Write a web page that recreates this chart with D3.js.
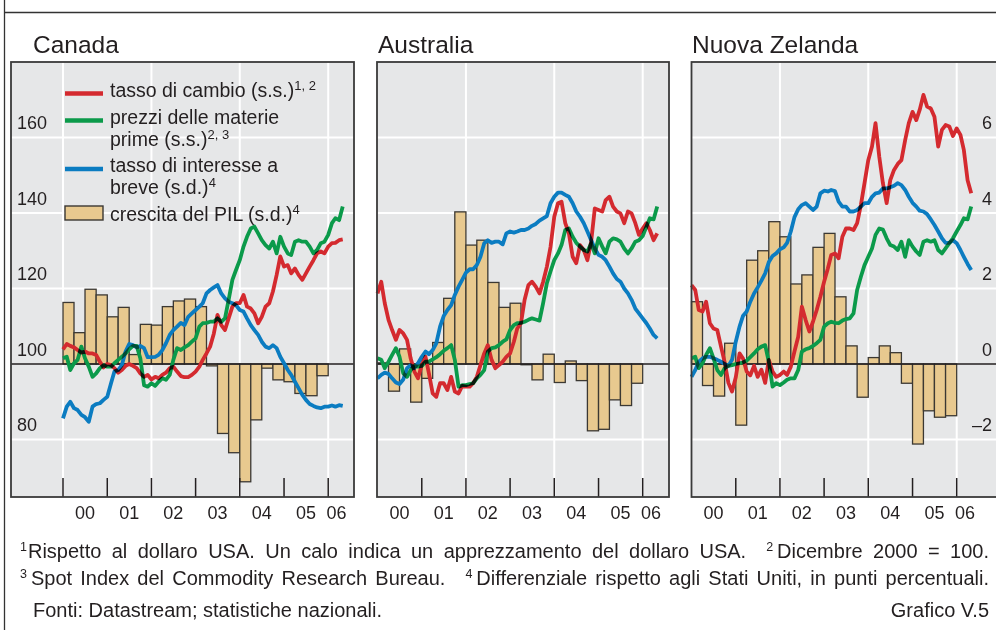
<!DOCTYPE html>
<html>
<head>
<meta charset="utf-8">
<script src="https://cdn.jsdelivr.net/npm/d3@7"></script>
<style>
body { margin: 0; background: #fff; }
svg { display: block; font-family: "Liberation Sans", Arial, sans-serif; fill: #231f20; }
</style>
</head>
<body>
<script>
// monthly series Jan 2000 - May 2006; fx and commodities: Dec 2000 = 100 (left scale)
// short rate and GDP growth: differential vs US, pp (right scale)
var canFx = [103.9,105.3,104.8,104.4,103.7,103.0,103.3,102.8,102.8,102.4,100.6,99.1,
  100.0,99.7,98.9,97.7,98.4,99.5,100.0,99.5,98.9,97.5,96.6,97.1,
  95.9,96.6,96.2,97.1,97.7,98.9,99.3,98.0,96.8,96.5,96.5,97.1,
  98.0,99.3,101.1,102.8,104.6,108.1,113.0,110.3,109.0,112.1,115.2,116.1,
  116.1,118.3,115.2,114.7,113.4,110.8,112.5,115.2,116.1,119.2,123.6,128.5,
  125.8,126.2,124.0,125.3,123.6,122.3,124.0,125.8,127.5,129.3,129.8,129.3,
  131.1,132.0,132.1,132.8,133.0];
var canCom = [101.5,101.9,98.4,100.2,101.1,104.6,101.5,99.3,96.6,97.5,98.9,99.7,
  99.3,99.3,100.2,101.1,101.9,102.8,103.9,104.8,104.8,101.5,94.4,94.0,
  94.9,94.2,95.3,96.2,95.8,97.1,101.1,104.2,103.7,104.4,105.0,105.9,
  106.8,109.9,110.8,110.9,111.2,111.2,112.1,111.2,112.1,117.0,122.3,124.9,
  127.5,131.1,133.7,135.9,136.4,134.6,132.8,131.5,130.6,132.4,129.3,133.7,
  131.1,129.3,128.9,132.4,132.8,132.4,132.4,131.1,129.3,130.2,132.0,132.4,
  134.2,137.3,138.6,138.1,141.7];
var canRate = [-1.44,-1.13,-1.00,-1.17,-1.22,-1.35,-1.41,-1.53,-1.13,-1.06,-1.04,-0.95,
  -0.87,-0.51,-0.20,-0.16,-0.03,0.33,0.53,0.50,0.44,0.48,0.42,0.18,
  0.18,0.19,0.24,0.37,0.55,0.77,0.90,0.99,1.09,1.03,1.25,1.34,
  1.43,1.52,1.61,1.87,1.96,2.03,2.09,1.87,1.74,1.65,1.61,1.56,
  1.43,1.39,1.21,1.03,0.90,0.77,0.59,0.46,0.42,0.50,0.42,0.19,
  0.02,-0.16,-0.29,-0.47,-0.64,-0.82,-0.95,-1.06,-1.11,-1.15,-1.17,-1.13,
  -1.13,-1.10,-1.13,-1.09,-1.11];
// quarterly, 2000 Q1 - 2005 Q4
var canGdp = [1.63,0.83,1.98,1.83,1.25,1.50,0.25,1.05,1.03,1.52,1.67,1.72,
  1.52,-0.05,-1.84,-2.35,-3.12,-1.48,-0.11,-0.42,-0.47,-0.78,-0.84,-0.31];

var ausFx = [118.7,121.8,116.1,111.7,109.0,106.4,109.0,108.1,106.4,101.5,98.0,96.2,
  99.8,101.9,97.5,92.2,91.3,94.9,94.9,93.1,96.6,92.7,92.2,94.2,
  94.0,94.0,94.9,96.6,99.7,102.8,105.0,101.1,98.9,99.7,100.6,101.9,
  102.8,105.9,109.4,110.8,117.0,120.9,121.8,120.5,118.7,121.8,125.8,131.0,
  139.0,142.6,143.0,137.3,134.6,128.4,126.7,131.5,130.2,127.5,132.4,141.2,
  140.8,140.4,143.4,144.3,141.7,140.4,139.9,137.3,140.4,139.9,137.3,134.2,
  135.9,137.3,135.5,132.8,134.6];
var ausCom = [101.5,101.1,98.9,100.6,102.4,104.2,101.9,97.5,96.6,98.4,99.5,99.3,
  99.5,100.6,100.6,101.2,101.8,102.6,103.5,104.2,105.0,101.1,94.0,94.4,
  94.4,94.7,94.9,96.2,97.1,98.4,103.3,104.2,104.4,105.0,105.9,106.5,
  109.0,110.3,110.8,110.9,111.2,111.7,112.1,111.8,111.5,116.1,121.4,124.5,
  127.5,129.3,131.5,135.5,135.9,133.7,132.1,131.1,130.2,129.8,132.0,129.3,
  133.3,131.1,129.3,132.4,133.3,133.0,132.4,130.6,129.3,130.6,132.4,132.8,
  133.9,136.4,138.6,138.3,141.7];
var ausRate = [-0.38,-0.29,-0.23,-0.26,-0.38,-0.49,-0.53,-0.41,-0.11,-0.03,-0.11,0.02,
  0.19,0.33,0.26,0.37,0.55,0.99,1.27,1.43,1.56,1.83,2.05,2.23,
  2.42,2.51,2.51,2.62,2.84,3.20,3.28,3.21,3.24,3.24,3.17,3.46,
  3.51,3.48,3.51,3.55,3.55,3.59,3.66,3.71,3.80,3.86,3.92,4.26,
  4.43,4.54,4.54,4.48,4.43,4.26,4.04,3.90,3.73,3.51,3.28,3.06,
  2.89,2.84,2.75,2.58,2.40,2.25,2.18,2.00,1.87,1.70,1.47,1.34,
  1.21,1.08,0.94,0.77,0.68];
var ausGdp = [0.03,-0.72,0.40,-1.01,-0.38,0.57,1.74,4.03,3.15,3.28,2.16,1.50,
  1.61,-0.02,-0.42,0.26,-0.49,0.08,-0.44,-1.77,-1.73,-0.95,-1.10,-0.51];

var nzFx = [120.9,119.6,114.3,113.9,116.5,110.8,109.4,109.0,104.6,100.5,95.0,92.7,
  96.5,102.8,101.5,98.0,97.0,99.5,96.6,98.5,95.0,101.1,98.0,96.6,
  97.1,98.0,97.1,99.3,103.3,107.2,115.2,111.7,108.6,111.2,114.3,117.8,
  121.8,125.3,128.9,129.3,128.0,133.7,135.9,135.9,135.5,137.3,142.1,147.9,
  154.0,157.6,163.8,154.9,147.9,142.6,148.7,151.4,153.0,154.0,159.3,163.8,
  166.8,164.6,167.3,171.3,168.2,167.7,165.5,157.6,162.0,163.3,162.9,160.4,
  162.4,160.7,156.7,148.7,145.2];
var nzCom = [101.5,101.9,98.9,100.2,102.4,104.2,101.5,98.4,97.1,98.9,99.5,99.7,
  100.0,100.2,100.4,100.9,101.8,102.8,103.9,104.6,105.0,100.6,94.0,94.9,
  94.4,95.1,95.8,96.2,96.2,98.4,103.3,103.9,104.2,104.8,105.5,106.4,
  109.9,110.8,111.2,110.9,110.8,111.5,111.9,112.1,113.4,119.6,123.1,126.2,
  128.4,130.6,134.2,135.9,135.6,133.3,131.5,131.1,130.2,132.4,128.4,132.8,
  131.1,129.8,128.9,132.4,132.8,132.4,132.8,130.2,129.3,130.6,132.0,133.3,
  135.1,136.8,138.6,138.3,141.7];
var nzRate = [-0.34,-0.16,0.06,0.15,0.19,0.19,0.15,0.11,0.06,0.00,-0.05,0.11,
  0.59,0.99,1.27,1.39,1.65,1.87,2.03,2.21,2.40,2.70,2.86,2.93,
  3.04,3.09,3.21,3.51,3.89,4.10,4.21,4.26,4.17,4.08,4.17,4.52,
  4.59,4.57,4.61,4.58,4.30,4.17,4.17,4.04,4.04,4.08,4.17,4.26,
  4.26,4.43,4.52,4.54,4.65,4.65,4.68,4.72,4.79,4.74,4.61,4.43,
  4.27,4.17,4.06,4.04,3.97,3.83,3.68,3.51,3.33,3.21,3.21,3.28,
  3.20,3.02,2.84,2.65,2.49];
var nzGdp = [1.65,-0.57,-0.85,0.55,-1.62,2.75,3.00,3.77,3.37,2.12,2.36,3.09,
  3.46,1.78,0.48,-0.88,0.17,0.48,0.30,-0.51,-2.12,-1.24,-1.41,-1.37];

var yearLabels = ["00","01","02","03","04","05","06"];
var leftTicks = [80,100,120,140,160];
var rightTicks = [-2,0,2,4,6];
var titles = ["Canada","Australia","Nuova Zelanda"];

var red = '#d42a2f', green = '#0b9a4a', blue = '#0b7cc1', tan = '#e8c98f';

var width = 996, height = 630;
var panelTop = 62, panelBottom = 497;

var months = d3.timeMonth.range(new Date(2000,0,1), new Date(2006,5,1));
var quarters = d3.timeMonth.every(3).range(new Date(2000,0,1), new Date(2006,0,1));
var years = d3.timeYear.range(new Date(2000,0,1), new Date(2007,0,1));

var yL = d3.scaleLinear().domain([80,160]).range([439.5,137.5]);
var yR = d3.scaleLinear().domain([-2,6]).range([439.5,137.5]);

var panels = [
  {title: titles[0], fx: canFx, com: canCom, rate: canRate, gdp: canGdp,
   left: 11, right: 354, x0: 63, x1: 328.2, titleX: 33, leftAxis: true, legend: true},
  {title: titles[1], fx: ausFx, com: ausCom, rate: ausRate, gdp: ausGdp,
   left: 377, right: 669, x0: 377.5, x1: 642.7, titleX: 378},
  {title: titles[2], fx: nzFx, com: nzCom, rate: nzRate, gdp: nzGdp,
   left: 691.5, right: 1010, x0: 691.5, x1: 956.7, titleX: 692, rightAxis: true}
];

var svg = d3.select('body').append('svg')
    .attr('width', width)
    .attr('height', height);

// outer frame
svg.append('line').attr('x1',4.5).attr('x2',4.5).attr('y1',0).attr('y2',height)
    .attr('stroke','#333').attr('stroke-width',1.3);
svg.append('line').attr('x1',4.5).attr('x2',width).attr('y1',12.5).attr('y2',12.5)
    .attr('stroke','#333').attr('stroke-width',1.3);

panels.forEach(function(p){
    var x = d3.scaleTime()
        .domain([new Date(2000,0,1), new Date(2006,0,1)])
        .range([p.x0, p.x1]);

    var g = svg.append('g');

    g.append('text')
        .attr('x', p.titleX).attr('y', 53)
        .attr('font-size', 24.5)
        .text(p.title);

    g.append('rect')
        .attr('x', p.left).attr('y', panelTop)
        .attr('width', p.right - p.left).attr('height', panelBottom - panelTop)
        .attr('fill', '#e6e7e8');

    // horizontal grid
    g.selectAll('.hgrid').data(leftTicks.filter(function(d){ return d !== 100; }))
        .enter().append('line')
        .attr('x1', p.left).attr('x2', p.right)
        .attr('y1', function(d){ return yL(d); }).attr('y2', function(d){ return yL(d); })
        .attr('stroke', '#fff').attr('stroke-width', 2);

    // vertical grid every second year
    g.selectAll('.vgrid').data(years.filter(function(d, i){ return i % 2 === 0 && x(d) > p.left + 2; }))
        .enter().append('line')
        .attr('x1', function(d){ return x(d); }).attr('x2', function(d){ return x(d); })
        .attr('y1', panelTop).attr('y2', panelBottom)
        .attr('stroke', '#fff').attr('stroke-width', 2);

    // GDP growth bars
    g.selectAll('.bar').data(p.gdp)
        .enter().append('rect')
        .attr('x', function(d, i){ return x(quarters[i]); })
        .attr('width', function(d, i){ return x(d3.timeMonth.offset(quarters[i], 3)) - x(quarters[i]); })
        .attr('y', function(d){ return yR(Math.max(0, d)); })
        .attr('height', function(d){ return Math.abs(yR(d) - yR(0)); })
        .attr('fill', tan).attr('stroke', '#3b3833').attr('stroke-width', 1.3);

    // zero line
    g.append('line')
        .attr('x1', p.left).attr('x2', p.right)
        .attr('y1', yL(100)).attr('y2', yL(100))
        .attr('stroke', '#231f20').attr('stroke-width', 1.6);

    // lines, multiplied where they cross
    var lg = g.append('g').style('isolation', 'isolate');
    var lineL = d3.line()
        .x(function(d, i){ return x(months[i]); })
        .y(function(d){ return yL(d); });
    var lineR = d3.line()
        .x(function(d, i){ return x(months[i]); })
        .y(function(d){ return yR(d); });
    [[p.rate, lineR, blue], [p.com, lineL, green], [p.fx, lineL, red]].forEach(function(s){
        lg.append('path')
            .attr('d', s[1](s[0]))
            .attr('fill', 'none')
            .attr('stroke', s[2])
            .attr('stroke-width', 3.8)
            .attr('stroke-linejoin', 'round')
            .style('mix-blend-mode', 'multiply');
    });

    // year ticks
    g.selectAll('.tick').data(years.filter(function(d){ return x(d) > p.left + 2; }))
        .enter().append('line')
        .attr('x1', function(d){ return x(d); }).attr('x2', function(d){ return x(d); })
        .attr('y1', panelBottom - 19).attr('y2', panelBottom)
        .attr('stroke', '#231f20').attr('stroke-width', 1.5);

    g.append('rect')
        .attr('x', p.left).attr('y', panelTop)
        .attr('width', p.right - p.left).attr('height', panelBottom - panelTop)
        .attr('fill', 'none').attr('stroke', '#3a3a3a').attr('stroke-width', 1.8);

    // year labels
    g.selectAll('.year').data(yearLabels)
        .enter().append('text')
        .attr('x', function(d, i){
            return i < 6 ? x(new Date(2000 + i, 6, 1)) : x(new Date(2006, 2, 10));
        })
        .attr('y', 519)
        .attr('text-anchor', 'middle')
        .attr('font-size', 18)
        .text(function(d){ return d; });

    if (p.leftAxis) {
        g.selectAll('.ylab').data(leftTicks)
            .enter().append('text')
            .attr('x', 17).attr('y', function(d){ return yL(d) - 8.5; })
            .attr('font-size', 18)
            .text(function(d){ return d; });
    }
    if (p.rightAxis) {
        g.selectAll('.ylab').data(rightTicks)
            .enter().append('text')
            .attr('x', 992).attr('y', function(d){ return yR(d) - 8.5; })
            .attr('text-anchor', 'end')
            .attr('font-size', 18)
            .text(function(d){ return d < 0 ? '\u2013' + Math.abs(d) : d; });
    }

    if (p.legend) {
        var items = [
            {kind: 'line', color: red, y: 93.5, rows: [['tasso di cambio (s.s.)', '1, 2']], base: 96.5},
            {kind: 'line', color: green, y: 120.5, rows: [['prezzi delle materie', ''], ['prime (s.s.)', '2, 3']], base: 123.5},
            {kind: 'line', color: blue, y: 169, rows: [['tasso di interesse a', ''], ['breve (s.d.)', '4']], base: 172},
            {kind: 'box', color: tan, y: 213, rows: [['crescita del PIL (s.d.)', '4']], base: 221}
        ];
        items.forEach(function(it){
            if (it.kind === 'line') {
                g.append('line').attr('x1', 65).attr('x2', 103)
                    .attr('y1', it.y).attr('y2', it.y)
                    .attr('stroke', it.color).attr('stroke-width', 4.5);
            } else {
                g.append('rect').attr('x', 65).attr('y', it.y - 7)
                    .attr('width', 38).attr('height', 14)
                    .attr('fill', it.color).attr('stroke', '#3b3833').attr('stroke-width', 1.4);
            }
            it.rows.forEach(function(r, k){
                var t = g.append('text').attr('x', 110).attr('y', it.base + k * 22)
                    .attr('font-size', 19.5);
                t.append('tspan').text(r[0]);
                if (r[1]) t.append('tspan').attr('dy', -7).attr('font-size', 13).text(r[1]);
            });
        });
    }
});

// footnotes: each line justified between x = 20 and x = 989
function noteText(sup, txt, y) {
    var t = svg.append('text').attr('y', y).attr('font-size', 20);
    t.append('tspan').attr('font-size', 12.5).attr('dy', -7).text(sup);
    t.append('tspan').attr('dy', 7).attr('dx', sup === '1' ? 1 : 4).text(txt);
    return t;
}
function noteLine(y, a, b) {
    var ta = noteText(a[0], a[1], y).attr('x', 0);
    var tb = noteText(b[0], b[1], y).attr('x', 0);
    var gaps = a[1].split(' ').length + b[1].split(' ').length - 2;
    var free = 969 - 20 - ta.node().getBBox().width - tb.node().getBBox().width;
    var ws = Math.max(-1, free / gaps);
    ta.attr('word-spacing', ws).attr('x', 20);
    tb.attr('word-spacing', ws).attr('x', 989 - tb.node().getBBox().width);
}
noteLine(558, ['1', 'Rispetto al dollaro USA. Un calo indica un apprezzamento del dollaro USA.'],
              ['2', 'Dicembre 2000 = 100.']);
noteLine(585, ['3', 'Spot Index del Commodity Research Bureau.'],
              ['4', 'Differenziale rispetto agli Stati Uniti, in punti percentuali.']);
svg.append('text').attr('x', 33).attr('y', 617)
    .attr('font-size', 20).text('Fonti: Datastream; statistiche nazionali.');
svg.append('text').attr('x', 989).attr('y', 617)
    .attr('text-anchor', 'end').attr('font-size', 20).text('Grafico V.5');
</script>
</body>
</html>
